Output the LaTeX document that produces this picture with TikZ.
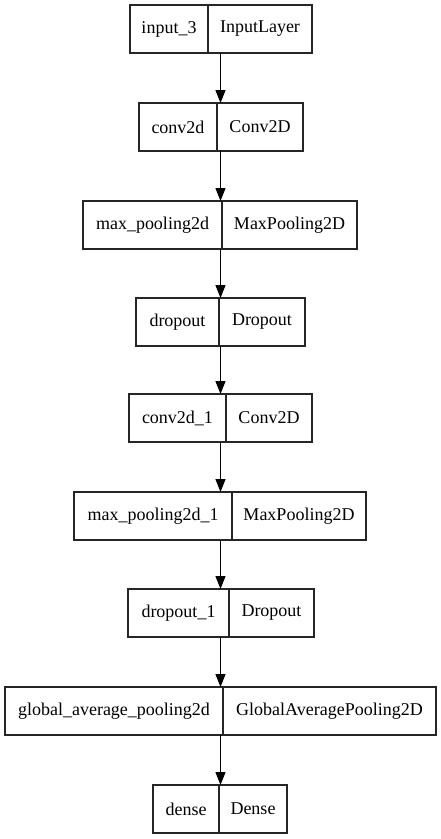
\documentclass[tikz,border=0pt]{standalone}
\usepackage{fontspec}
\setmainfont{Liberation Serif}
\usetikzlibrary{arrows.meta}
\tikzset{
  cell/.style={draw=black!85, line width=1.1pt, inner sep=0pt, outer sep=0pt,
    minimum height=48pt, anchor=north west, font=\fontsize{18}{20}\selectfont},
  arr/.style={draw=black, line width=1.1pt, -{Triangle[length=13pt,width=10pt]}}
}
\begin{document}
\begin{tikzpicture}[x=1pt,y=-1pt]
\useasboundingbox (0,0) rectangle (441,839);
\coordinate (ax) at (220.5,0);
% box 1
\node[cell, minimum width=78pt] (l1) at (130,5) {input\_3};
\node[cell, minimum width=104pt] (r1) at (l1.north east) {InputLayer};
% box 2
\node[cell, minimum width=78pt] (l2) at (139,103) {conv2d};
\node[cell, minimum width=86pt] (r2) at (l2.north east) {Conv2D};
% box 3
\node[cell, minimum width=139pt] (l3) at (83,201) {max\_pooling2d};
\node[cell, minimum width=135pt] (r3) at (l3.north east) {MaxPooling2D};
% box 4
\node[cell, minimum width=83pt] (l4) at (136,298) {dropout};
\node[cell, minimum width=86pt] (r4) at (l4.north east) {Dropout};
% box 5
\node[cell, minimum width=97pt] (l5) at (129,394) {conv2d\_1};
\node[cell, minimum width=86pt] (r5) at (l5.north east) {Conv2D};
% box 6
\node[cell, minimum width=158pt] (l6) at (74,492) {max\_pooling2d\_1};
\node[cell, minimum width=134pt] (r6) at (l6.north east) {MaxPooling2D};
% box 7
\node[cell, minimum width=101pt] (l7) at (128,589) {dropout\_1};
\node[cell, minimum width=85pt] (r7) at (l7.north east) {Dropout};
% box 8
\node[cell, minimum width=218pt] (l8) at (5,687) {global\_average\_pooling2d};
\node[cell, minimum width=213pt] (r8) at (l8.north east) {GlobalAveragePooling2D};
% box 9
\node[cell, minimum width=66pt] (l9) at (153,785) {dense};
\node[cell, minimum width=68pt] (r9) at (l9.north east) {Dense};
% arrows
\draw[arr] (l1.south -| ax) -- (l2.north -| ax);
\draw[arr] (l2.south -| ax) -- (l3.north -| ax);
\draw[arr] (l3.south -| ax) -- (l4.north -| ax);
\draw[arr] (l4.south -| ax) -- (l5.north -| ax);
\draw[arr] (l5.south -| ax) -- (l6.north -| ax);
\draw[arr] (l6.south -| ax) -- (l7.north -| ax);
\draw[arr] (l7.south -| ax) -- (l8.north -| ax);
\draw[arr] (l8.south -| ax) -- (l9.north -| ax);
\end{tikzpicture}
\end{document}
